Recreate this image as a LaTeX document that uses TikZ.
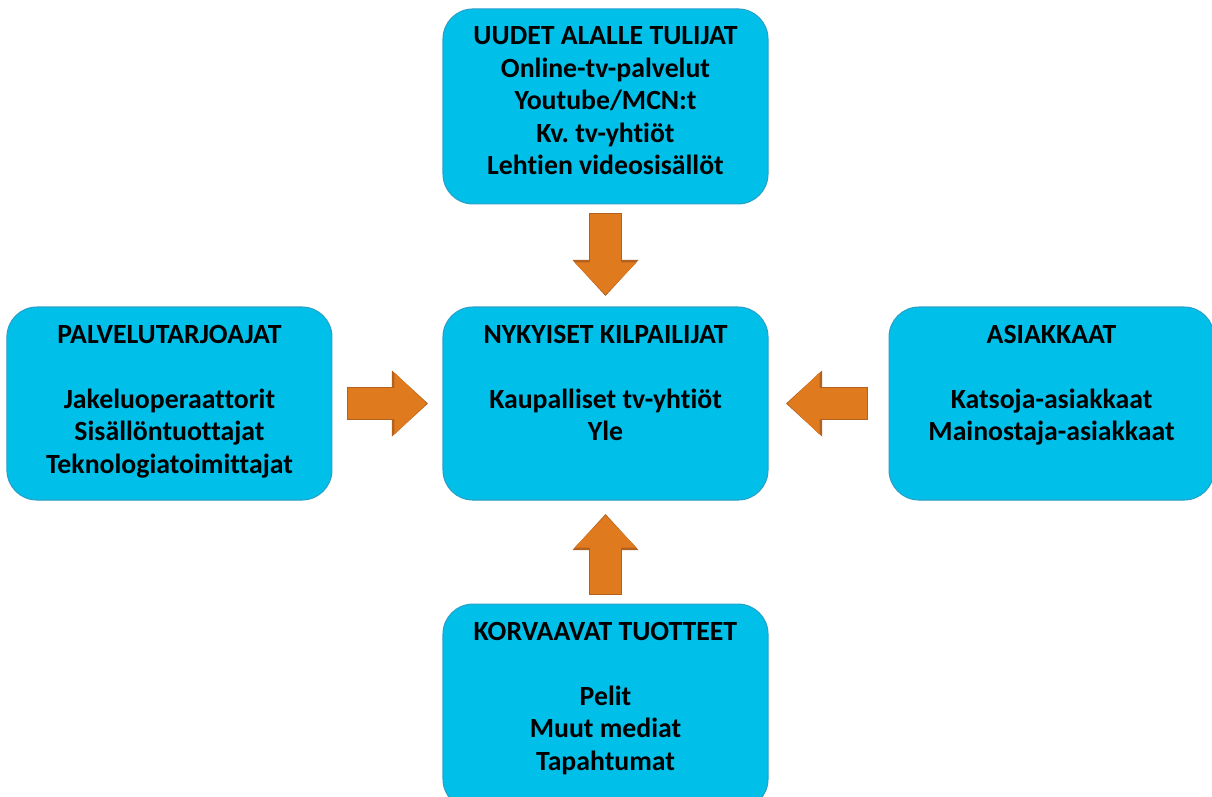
\documentclass[tikz,border=0pt]{standalone}
\usepackage{fontspec}
\setmainfont{Carlito}[Ligatures=NoCommon]
\usepackage{xcolor}
\usepackage{tikz}
\usetikzlibrary{arrows.meta,positioning}

\definecolor{boxfill}{RGB}{0,192,234}
\definecolor{boxline}{RGB}{40,160,200}
\definecolor{arrowfill}{RGB}{224,122,30}
\definecolor{arrowline}{RGB}{178,98,30}

\begin{document}
\begin{tikzpicture}[
  font=\fontsize{15.8}{18.5}\selectfont\bfseries,
  forcebox/.style={draw=boxline, line width=0.6pt, fill=boxfill, rounded corners=0.6cm, minimum width=6.5cm, minimum height=3.86cm, inner sep=0pt},
  boxtext/.style={anchor=north, align=center, inner sep=0pt},
  arrowedge/.style={draw=arrowline, line width=0.66cm, line cap=rect, -{Triangle[length=0.72cm, width=1.32cm, line width=0pt]}},
  arrowbody/.style={draw=arrowfill, line width=0.62cm, line cap=rect, -{Triangle[length=0.64cm, width=1.24cm, line width=0pt]}}
]
\useasboundingbox (0,0) rectangle (24.24,-15.92);
\clip (0,0) rectangle (24.24,-15.92);

% the five forces
\node[forcebox] (nyky) at (12.11,-8.07) {};
\node[forcebox, minimum height=3.9cm, above=2.04cm of nyky] (uusi) {};
\node[forcebox, left=2.2cm of nyky] (palv) {};
\node[forcebox, right=2.4cm of nyky] (asia) {};
\node[forcebox, minimum height=4.1cm, below=2.06cm of nyky] (korv) {};

\node[boxtext, below=0.36cm of uusi.north] (uusiT) {UUDET ALALLE TULIJAT\\Online-tv-palvelut\\Youtube/MCN:t\\Kv.\ tv-yhtiöt\\Lehtien videosisällöt};
\node[boxtext, below=0.36cm of nyky.north] (nykyT) {NYKYISET KILPAILIJAT\\~\\Kaupalliset tv-yhtiöt\\Yle};
\node[boxtext, below=0.36cm of palv.north] (palvT) {PALVELUTARJOAJAT\\~\\Jakeluoperaattorit\\Sisällöntuottajat\\Teknologiatoimittajat};
\node[boxtext, below=0.36cm of asia.north] (asiaT) {ASIAKKAAT\\~\\Katsoja-asiakkaat\\Mainostaja-asiakkaat};
\node[boxtext, below=0.36cm of korv.north] (korvT) {KORVAAVAT TUOTTEET\\~\\Pelit\\Muut mediat\\Tapahtumat};

% block arrows into the centre (rect caps reach 0.31cm past the line end)
\foreach \from/\sa/\sb in {uusi/0.2/0.24, palv/0.32/0.32, asia/0.44/0.38, korv/0.2/0.3}{
  \draw[arrowedge, shorten <=\sa cm+0.31cm, shorten >=\sb cm-0.03cm] (\from) -- (nyky);
  \draw[arrowbody, shorten <=\sa cm+0.31cm, shorten >=\sb cm] (\from) -- (nyky);
}
\end{tikzpicture}
\end{document}
